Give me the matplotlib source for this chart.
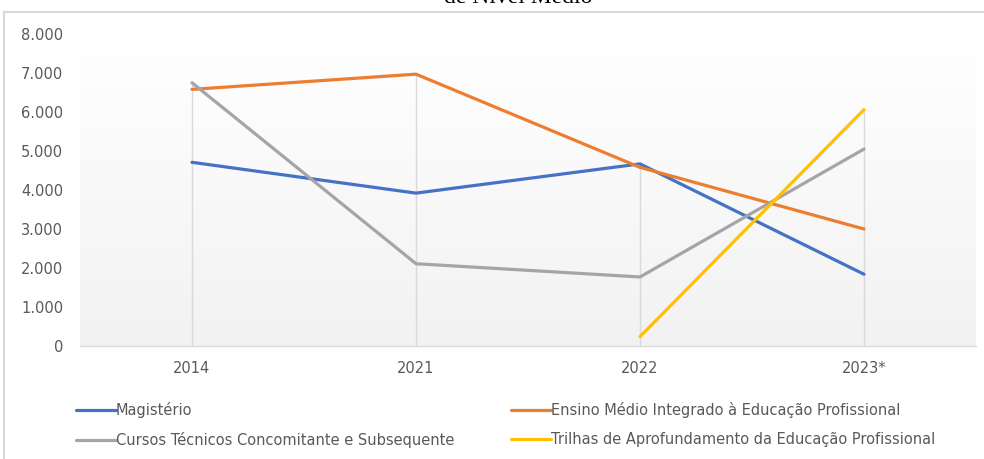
import numpy as np
import matplotlib.pyplot as plt
from matplotlib.lines import Line2D
from matplotlib.colors import LinearSegmentedColormap

# categories and series (matrículas)
anos = ['2014', '2021', '2022', '2023*']
magisterio = [4710, 3920, 4670, 1840]
ensino_integrado = [6580, 6970, 4580, 3000]
cursos_tecnicos = [6750, 2110, 1770, 5050]
trilhas = [None, None, 240, 6060]
yticks = [0, 1000, 2000, 3000, 4000, 5000, 6000, 7000, 8000]

series = [
    ('Magistério', magisterio, '#4472C4'),
    ('Ensino Médio Integrado à Educação Profissional', ensino_integrado, '#ED7D31'),
    ('Cursos Técnicos Concomitante e Subsequente', cursos_tecnicos, '#A5A5A5'),
    ('Trilhas de Aprofundamento da Educação Profissional', trilhas, '#FFC000'),
]

plt.rcParams['font.family'] = ['DejaVu Sans']

fig = plt.figure(figsize=(9.84, 4.59), dpi=100)
ax = fig.add_axes([80 / 984, 1 - 346 / 459, 896 / 984, 312 / 459])

# gradient background of the plot area
grad = np.linspace(1.0, 0.0, 256).reshape(-1, 1)
ax.imshow(grad, extent=[0, 1, 0, 1], transform=ax.transAxes, aspect='auto',
          cmap=LinearSegmentedColormap.from_list('g', ['#f2f2f2', '#ffffff']),
          zorder=0)

x = np.arange(len(anos))
handles = []
for name, vals, col in series:
    xs = [xi for xi, v in zip(x, vals) if v is not None]
    ys = [v for v in vals if v is not None]
    h, = ax.plot(xs, ys, color=col, lw=2.3, label=name, zorder=3, solid_capstyle='round')
    handles.append(h)

# drop lines: from the highest point of each category down to the axis
tops = []
for i in range(len(anos)):
    vals = [s[1][i] for s in series if s[1][i] is not None]
    tops.append(max(vals))
ax.vlines(x, 0, tops, color='#d9d9d9', lw=1, zorder=1)

ax.set_xlim(-0.5, len(anos) - 0.5)
ax.set_ylim(0, 8000)
ax.set_xticks(x)
ax.set_xticklabels(anos)
ax.set_yticks(yticks)
ax.set_yticklabels([f'{v:,}'.replace(',', '.') for v in yticks])
ax.tick_params(axis='both', length=0, labelsize=10.5, colors='#595959')
ax.tick_params(axis='y', pad=12)
ax.tick_params(axis='x', pad=11)
for s in ['top', 'right', 'left']:
    ax.spines[s].set_visible(False)
ax.spines['bottom'].set_color('#d9d9d9')
ax.spines['bottom'].set_linewidth(1)
ax.spines['bottom'].set_zorder(2)

# legend filled row by row
order = [0, 2, 1, 3]
fig.legend([handles[i] for i in order], [series[i][0] for i in order],
           loc='upper left', bbox_to_anchor=(63 / 984, 1 - 389 / 459), ncol=2,
           frameon=False, fontsize=10.5, labelcolor='#595959',
           handlelength=2.7, handletextpad=0.0, columnspacing=3.95, labelspacing=0.95)

# outer chart frame (partially visible)
fig.add_artist(Line2D([4 / 984, 4 / 984], [0, 1 - 12 / 459], color='#d9d9d9', lw=1.5,
                      transform=fig.transFigure))
fig.add_artist(Line2D([4 / 984, 1], [1 - 12 / 459, 1 - 12 / 459], color='#d9d9d9', lw=1.5,
                      transform=fig.transFigure))

# title, cut off at the top like the source
fig.text(518 / 984, 1 - 3 / 459, 'de Nível Médio', ha='center', va='baseline',
         fontsize=17, family='Liberation Serif', color='black')

fig.savefig('out.png', dpi=100)
